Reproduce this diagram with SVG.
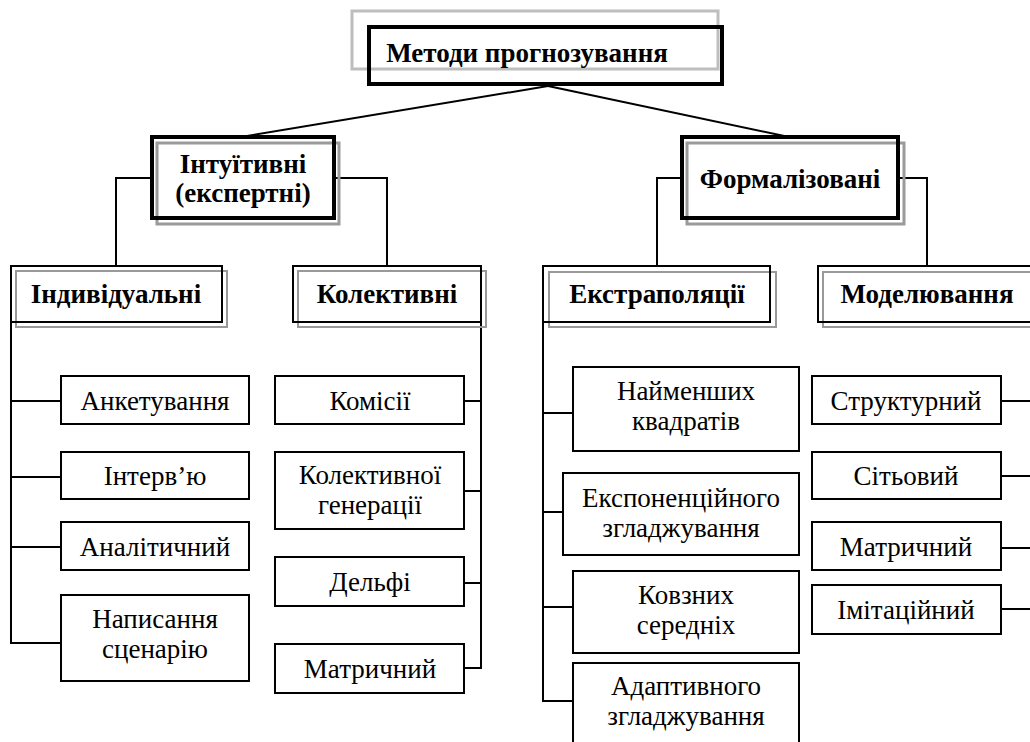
<svg xmlns="http://www.w3.org/2000/svg" width="1030" height="742" viewBox="0 0 1030 742" font-family="'Liberation Serif', serif">
<style>
text{fill:#000;text-anchor:middle;font-size:27px}
.tb{font-weight:bold}
.shadowL{fill:none;stroke:#bdbdbd;stroke-width:3}
.thick{fill:none;stroke:#000;stroke-width:4}
.shadow2{fill:none;stroke:#9a9a9a;stroke-width:3}
.b3{fill:none;stroke:#000;stroke-width:2}
.s3{fill:none;stroke:#999;stroke-width:2}
.box{fill:#fff;stroke:#000;stroke-width:2}
.conn{fill:none;stroke:#000;stroke-width:2}
</style>
<rect width="1030" height="742" fill="#fff"/>
<g id="connectors">
<line class="conn" x1="548" y1="86" x2="241" y2="137"/>
<line class="conn" x1="548" y1="86" x2="789" y2="137"/>
<polyline class="conn" points="152,178 116,178 116,266"/>
<polyline class="conn" points="334,178 387,178 387,266"/>
<polyline class="conn" points="682,178 657,178 657,266"/>
<polyline class="conn" points="898,178 927,178 927,266"/>
<polyline class="conn" points="11,322 11,643 61,643"/>
<line class="conn" x1="11" y1="401" x2="61" y2="401"/>
<line class="conn" x1="11" y1="477" x2="61" y2="477"/>
<line class="conn" x1="11" y1="547" x2="61" y2="547"/>
<polyline class="conn" points="481,322 481,668 464,668"/>
<line class="conn" x1="464" y1="401" x2="481" y2="401"/>
<line class="conn" x1="464" y1="491" x2="481" y2="491"/>
<line class="conn" x1="464" y1="583" x2="481" y2="583"/>
<polyline class="conn" points="543,322 543,701 573,701"/>
<line class="conn" x1="543" y1="413" x2="573" y2="413"/>
<line class="conn" x1="543" y1="512" x2="563" y2="512"/>
<line class="conn" x1="543" y1="607" x2="573" y2="607"/>
<line class="conn" x1="1001" y1="401" x2="1032" y2="401"/>
<line class="conn" x1="1001" y1="476" x2="1032" y2="476"/>
<line class="conn" x1="1001" y1="548" x2="1032" y2="548"/>
<line class="conn" x1="1001" y1="609" x2="1032" y2="609"/>
</g>
<g id="n-root">
<rect class="shadowL" x="352" y="11" width="366" height="58"/>
<rect class="thick" x="369" y="27" width="353" height="57"/>
<text class="tb" x="527" y="62">Методи прогнозування</text>
</g>
<g id="n-intuitive">
<rect class="shadow2" x="157" y="143" width="182" height="81"/>
<rect class="thick" x="152" y="137" width="182" height="81"/>
<text class="tb" x="243" y="173">Інтуїтивні</text>
<text class="tb" x="243" y="202">(експертні)</text>
</g>
<g id="n-formal">
<rect class="shadow2" x="687" y="143" width="217" height="81"/>
<rect class="thick" x="682" y="137" width="216" height="81"/>
<text class="tb" x="790" y="188">Формалізовані</text>
</g>
<g id="n-individual">
<rect class="s3" x="16" y="271" width="211" height="56"/>
<rect class="b3" x="11" y="266" width="211" height="56"/>
<text class="tb" x="116" y="303">Індивідуальні</text>
</g>
<g id="n-collective">
<rect class="s3" x="298" y="271" width="188" height="56"/>
<rect class="b3" x="293" y="266" width="188" height="56"/>
<text class="tb" x="387" y="303">Колективні</text>
</g>
<g id="n-extrapolation">
<rect class="s3" x="549" y="272" width="227" height="55"/>
<rect class="b3" x="543" y="266" width="227" height="56"/>
<text class="tb" x="657" y="303">Екстраполяції</text>
</g>
<g id="n-modeling">
<rect class="s3" x="823" y="272" width="220" height="55"/>
<rect class="b3" x="818" y="266" width="220" height="56"/>
<text class="tb" x="927" y="303">Моделювання</text>
</g>
<g id="n-anket"><rect class="box" x="61" y="376" width="188" height="48"/><text x="155" y="410">Анкетування</text></g>
<g id="n-interview"><rect class="box" x="61" y="452" width="188" height="47"/><text x="155" y="485">Інтерв’ю</text></g>
<g id="n-analytic"><rect class="box" x="61" y="522" width="188" height="48"/><text x="155" y="556">Аналітичний</text></g>
<g id="n-scenario"><rect class="box" x="61" y="595" width="188" height="86"/><text x="155" y="628">Написання</text><text x="155" y="658">сценарію</text></g>
<g id="n-commission"><rect class="box" x="275" y="376" width="189" height="48"/><text x="370" y="410">Комісії</text></g>
<g id="n-colgen"><rect class="box" x="275" y="452" width="189" height="77"/><text x="370" y="484">Колективної</text><text x="370" y="514">генерації</text></g>
<g id="n-delphi"><rect class="box" x="275" y="557" width="189" height="49"/><text x="370" y="591">Дельфі</text></g>
<g id="n-matrix1"><rect class="box" x="275" y="644" width="189" height="49"/><text x="370" y="678">Матричний</text></g>
<g id="n-lsq"><rect class="box" x="573" y="367" width="226" height="84"/><text x="686" y="400">Найменших</text><text x="686" y="430">квадратів</text></g>
<g id="n-exp"><rect class="box" x="563" y="473" width="236" height="82"/><text x="681" y="507">Експоненційного</text><text x="681" y="537">згладжування</text></g>
<g id="n-moving"><rect class="box" x="573" y="571" width="226" height="82"/><text x="686" y="604">Ковзних</text><text x="686" y="634">середніх</text></g>
<g id="n-adaptive"><rect class="box" x="573" y="663" width="226" height="100"/><text x="686" y="695">Адаптивного</text><text x="686" y="725">згладжування</text></g>
<g id="n-struct"><rect class="box" x="812" y="376" width="189" height="48"/><text x="906" y="410">Структурний</text></g>
<g id="n-network"><rect class="box" x="812" y="452" width="189" height="47"/><text x="906" y="485">Сітьовий</text></g>
<g id="n-matrix2"><rect class="box" x="812" y="522" width="189" height="48"/><text x="906" y="556">Матричний</text></g>
<g id="n-imitation"><rect class="box" x="812" y="585" width="189" height="49"/><text x="906" y="619">Імітаційний</text></g>
</svg>
